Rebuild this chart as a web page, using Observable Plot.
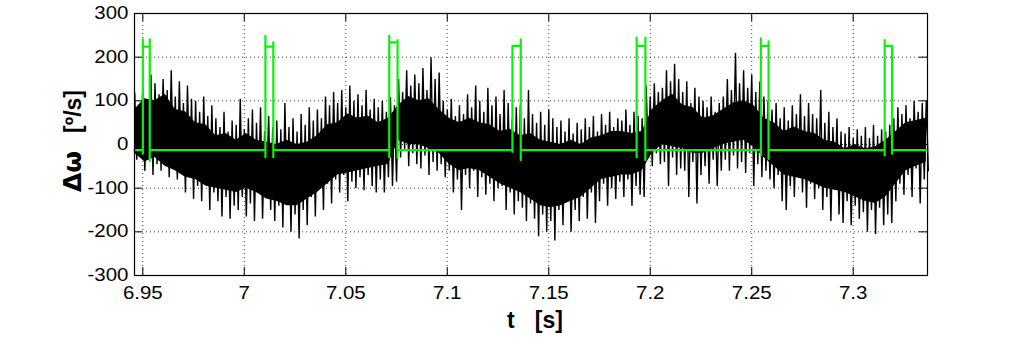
<!DOCTYPE html>
<html><head><meta charset="utf-8">
<script src="https://cdn.jsdelivr.net/npm/d3@7"></script>
<script src="https://cdn.jsdelivr.net/npm/@observablehq/plot@0.6"></script>
<style>body{margin:0;background:#fff;} #chart{position:relative;width:1024px;height:354px;}</style>
</head><body><div id="chart"></div>
<script>
// Tick values
const xTicks = [6.95, 7, 7.05, 7.1, 7.15, 7.2, 7.25, 7.3];
const yTicks = [-300, -200, -100, 0, 100, 200, 300];
const xDomain = [6.9459, 7.3366];
const yDomain = [-300, 300];

// Black (noisy) signal: sampled every noiseStep s starting at noiseStart,
// upper and lower excursions read from the picture
const noiseStart = 6.946, noiseStep = 0.002;
const noiseHi = [
  118, 85, 130, 100, 160,   140, 115, 150, 125, 170,   110, 145, 95, 135, 105,
  100, 75, 110, 65, 90,     60, 40, 75, 30, 55,        45, 105, 35, 60, 80,
  50, 85, 30, 65, 40,       55, 35, 95, 40, 60,        30, 70, 45, 85, 55,
  80, 60, 110, 90, 120,     95, 125, 85, 135, 100,     115, 90, 125, 80, 105,
  85, 100, 75, 108, 90,     150, 120, 170, 135, 160,   140, 175, 125, 200, 150,
  165, 100, 80, 105, 65,    90, 70, 115, 85, 135,      100, 75, 130, 90, 110,
  70, 125, 95, 60, 85,      90, 60, 125, 70, 50,       75, 45, 80, 60, 40,
  55, 30, 60, 25, 50,       35, 60, 40, 65, 30,        70, 45, 75, 40, 60,
  55, 80, 45, 75, 65,       60, 135, 110, 140, 120,    130, 170, 145, 185, 150,
  120, 145, 95, 130, 110,   100, 85, 110, 75, 95,      110, 150, 125, 210, 140,
  170, 130, 160, 120, 145,  110, 100, 80, 95, 60,      85, 55, 90, 70, 115,
  65, 95, 70, 60, 125,      50, 75, 40, 60, 30,        25, 40, 15, 35, 20,
  40, 15, 45, 20, 35,       30, 45, 60, 85, 70,        90, 60, 100, 75, 95,
  100
];
const noiseLo = [
  -35, -10, -60, -30, -70,      -45, -60, -30, -75, -50,      -80, -60, -110, -70, -125,
  -95, -130, -85, -150, -110,   -130, -165, -120, -170, -140, -150, -120, -165, -135, -175,
  -110, -170, -100, -150, -175, -140, -190, -125, -200, -160, -215, -150, -185, -120, -165,
  -100, -150, -90, -135, -80,   -110, -70, -130, -85, -100,   -75, -105, -70, -95, -110,
  -80, -110, -75, -95, -85,     -30, -10, -50, -20, -45,      -55, -25, -70, -40, -60,
  -45, -75, -60, -110, -80,     -150, -70, -100, -60, -120,   -75, -115, -90, -130, -100,
  -95, -150, -110, -160, -130,  -145, -175, -135, -170, -210, -160, -200, -175, -220, -150,
  -185, -130, -200, -150, -175, -120, -170, -110, -180, -130, -90, -140, -100, -125, -85,
  -120, -80, -140, -95, -115,   -120, -30, -50, -20, -45,     -40, -95, -30, -70, -55,
  -60, -120, -40, -135, -70,    -50, -90, -35, -95, -60,      -35, -60, -25, -55, -40,
  -65, -20, -95, -45, -75,      -60, -80, -100, -70, -130,    -150, -95, -120, -75, -110,
  -145, -90, -125, -100, -150,  -120, -175, -100, -160, -180, -130, -185, -140, -170, -155,
  -200, -150, -205, -145, -185, -160, -180, -130, -90, -115,  -70, -120, -55, -135, -80,
  -60
];

// Dense (solid) core of the black signal, every coreStep s
const coreStart = 6.946, coreStep = 0.005;
const coreHi = [
  80, 105, 100, 115, 80, 75, 50, 45, 20, 25,
  10, 25, 10, 5, 0, 10, 0, 5, 20, 45,
  50, 70, 60, 65, 50, 60, 90, 110, 100, 105,
  80, 60, 50, 60, 50, 45, 30, 35, 20, 25,
  10, 5, 0, 10, 0, 15, 20, 30, 30, 25,
  30, 80, 100, 115, 90, 85, 60, 65, 80, 95,
  100, 90, 60, 50, 30, 40, 30, 25, 10, 5,
  -10, 0, -10, -5, 10, 30, 50, 55, 60
];
const coreLo = [
  -20, -40, -30, -50, -60, -75, -80, -95, -100, -105,
  -110, -100, -110, -125, -130, -140, -140, -125, -110, -90,
  -70, -65, -60, -55, -50, -45, 10, 0, 0, -10,
  -20, -45, -60, -55, -60, -75, -90, -100, -110, -125,
  -140, -145, -140, -130, -120, -100, -80, -75, -70, -70,
  -60, -20, 0, -5, -10, -20, -20, -10, 0, 5,
  10, -5, -30, -50, -70, -75, -80, -90, -100, -105,
  -110, -120, -130, -135, -120, -90, -60, -50, -40
];

// Green (pulse) signal, vertices
const greenT = [
  6.9459,
  6.9500, 6.9500, 6.9500, 6.9500, 6.9534, 6.9534, 6.9534, 6.9534,
  7.0104, 7.0104, 7.0104, 7.0104, 7.0143, 7.0143, 7.0143, 7.0143,
  7.0714, 7.0714, 7.0714, 7.0714, 7.0755, 7.0755, 7.0755, 7.0755,
  7.1321, 7.1321, 7.1321, 7.1321, 7.1362, 7.1362, 7.1362, 7.1362,
  7.1933, 7.1933, 7.1933, 7.1933, 7.1976, 7.1976, 7.1976, 7.1976,
  7.2545, 7.2545, 7.2545, 7.2545, 7.2583, 7.2583, 7.2583, 7.2583,
  7.3155, 7.3155, 7.3155, 7.3155, 7.3191, 7.3191, 7.3191, 7.3191,
  7.3366
];
const greenV = [
  -13,
  -13, -21, 241, 224, 224, 241, -38, -13,
  -13, -29, 249, 224, 224, 234, -29, -13,
  -13, -29, 249, 234, 234, 239, -30, -13,
  -13, -17, 226, 226, 226, 241, -36, -13,
  -13, -29, 245, 226, 226, 245, -36, -13,
  -13, -25, 243, 226, 226, 236, -33, -13,
  -13, -25, 239, 226, 226, 226, -21, -13,
  -13
];

// Build tables
const noise = [];
noiseHi.forEach((h, i) => {
  const t = noiseStart + i * noiseStep;
  noise.push({t, v: h});
  noise.push({t: t + noiseStep / 2, v: noiseLo[i]});
});
const core = coreHi.map((h, i) => ({t: coreStart + i * coreStep, hi: h, lo: coreLo[i]}));
const green = greenT.map((t, i) => ({t, v: greenV[i]}));

const W = 1024, H = 354, ML = 134, MR = 97, MT = 13, MB = 79;
const PW = W - ML - MR, PH = H - MT - MB;
const tick = 8;

const svg = Plot.plot({
  width: W, height: H,
  marginLeft: ML, marginRight: MR, marginTop: MT, marginBottom: MB,
  style: {fontFamily: "'Liberation Sans', Arial, sans-serif", fontSize: "17.5px", background: "#fff", color: "#000"},
  x: {domain: xDomain},
  y: {domain: yDomain},
  marks: [
    Plot.ruleX(xTicks, {x: d => d, stroke: "#000", strokeOpacity: 0.75, strokeDasharray: "1,3"}),
    Plot.ruleY(yTicks, {y: d => d, stroke: "#000", strokeOpacity: 0.75, strokeDasharray: "1,3"}),
    Plot.areaY(core, {x: "t", y1: "lo", y2: "hi", fill: "#000", curve: "linear"}),
    Plot.line(noise, {x: "t", y: "v", stroke: "#000", strokeWidth: 1.4, strokeLinejoin: "miter", strokeMiterlimit: 2}),
    Plot.line(green, {x: "t", y: "v", stroke: "#10ee10", strokeWidth: 2.2}),
    Plot.tickX(xTicks, {x: d => d, insetTop: PH - tick, stroke: "#000"}),
    Plot.tickX(xTicks, {x: d => d, insetBottom: PH - tick, stroke: "#000"}),
    Plot.tickY(yTicks, {y: d => d, insetRight: PW - tick, stroke: "#000"}),
    Plot.tickY(yTicks, {y: d => d, insetLeft: PW - tick, stroke: "#000"}),
    Plot.frame({stroke: "#000", strokeWidth: 1.2}),
    Plot.axisX(xTicks, {tickSize: 0, tickPadding: 11, tickFormat: d => String(d), label: null}),
    Plot.axisY(yTicks, {tickSize: 0, tickPadding: 6, tickFormat: d => String(d), label: null})
  ]
});

// stretch tick labels horizontally like the original rendering
svg.querySelectorAll('g[aria-label$="tick label"] text').forEach(t => {
  let tr = t.getAttribute("transform") || "";
  if (t.hasAttribute("x") && !String(t.getAttribute("x")).includes("em")) {
    const x = +t.getAttribute("x") || 0;
    t.removeAttribute("x");
    tr = tr + ` translate(${x},0)`;
  }
  t.setAttribute("transform", tr + " scale(1.17,1)");
});

const s = d3.select(svg);
// x title
const xt = s.append("text")
  .attr("transform", "translate(535,328)")
  .attr("text-anchor", "middle")
  .attr("font-family", "'Liberation Sans', Arial, sans-serif")
  .attr("font-size", 23)
  .attr("font-weight", "bold")
  .attr("fill", "#000");
xt.append("tspan").text("t");
xt.append("tspan").attr("dx", 20).text("[s]");
// y title
const yt = s.append("text")
  .attr("transform", "translate(81,141) rotate(-90)")
  .attr("text-anchor", "middle")
  .attr("font-family", "'Liberation Sans', Arial, sans-serif")
  .attr("font-size", 23)
  .attr("font-weight", "bold")
  .attr("fill", "#000");
yt.append("tspan").attr("font-family", "'DejaVu Sans', sans-serif").attr("font-size", 25).text("Δω");
yt.append("tspan").attr("dx", 18).text("[º/s]");

document.getElementById("chart").appendChild(svg);
</script>
</body></html>
